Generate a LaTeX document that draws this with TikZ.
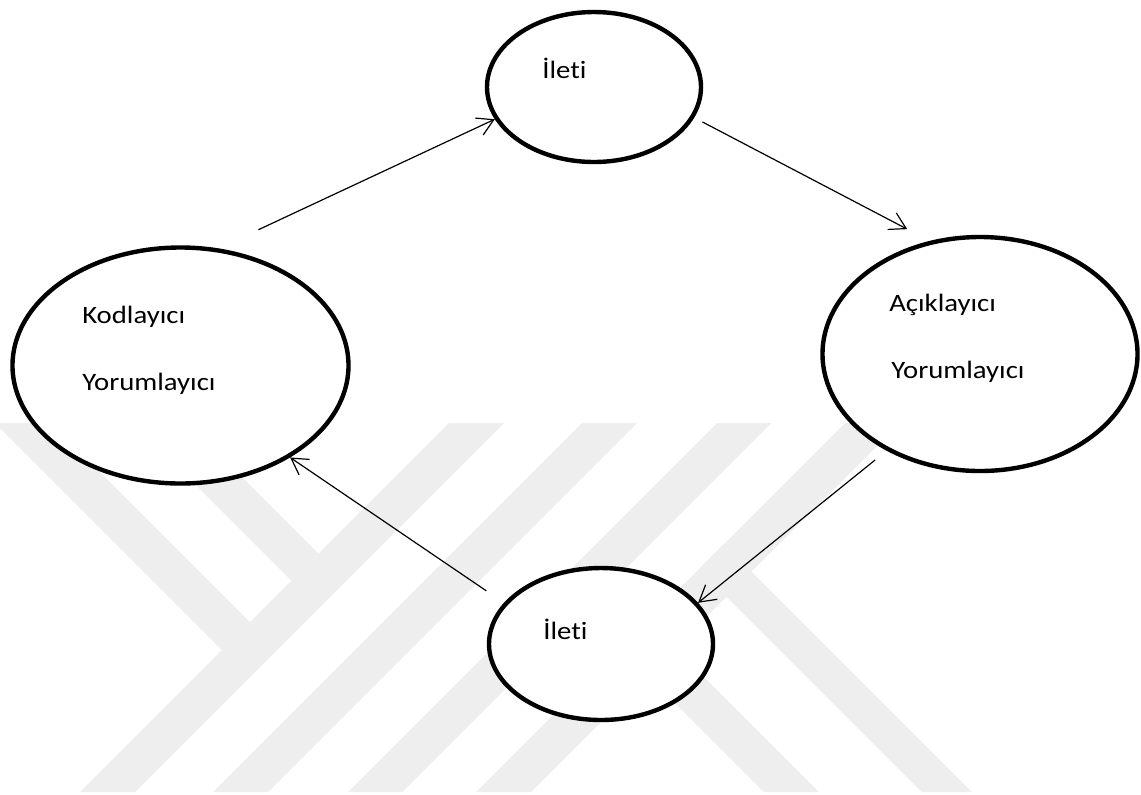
\documentclass[tikz,border=0pt]{standalone}
\usepackage{fontspec}
\setmainfont{Carlito}[FakeStretch=1.15,Ligatures={NoCommon}]
\usetikzlibrary{arrows.meta,shapes.geometric}
\definecolor{wm}{HTML}{EEEEEE}

\begin{document}
\begin{tikzpicture}[x=0.75pt,y=-0.75pt]
              \tikzstyle{every node}+=[inner sep=0pt]
              \tikzstyle{band}=[fill=wm,draw=none]
              \tikzstyle{oval}=[ellipse,draw,line width=3.3pt,fill=white]
              \tikzstyle{word}=[anchor=base west,font=\fontsize{18.75}{22}\selectfont]
              \tikzstyle{arr}=[line width=0.9pt,-{Straight Barb[length=12pt,width=14pt]}]
              \useasboundingbox (0,0) rectangle (1141,794);
              \fill [white] (0,0) rectangle (1141,794);
              \fill [band] (449,423) -- (504,423) -- (135,792) -- (80,792) -- cycle;
              \fill [band] (582,423) -- (637,423) -- (268,792) -- (213,792) -- cycle;
              \fill [band] (717,423) -- (771,423) -- (402,792) -- (348,792) -- cycle;
              \fill [band] (845,423) -- (900,423) -- (531,792) -- (476,792) -- cycle;
              \fill [band] (0,423) -- (51,423) -- (250,622) -- (222,650) -- (0,428) -- cycle;
              \fill [band] (134,423) -- (188,423) -- (318.5,553.5) -- (291.5,580.5) -- cycle;
              \fill [band] (724,544) -- (972,792) -- (922,792) -- (699,569) -- cycle;
              \fill [band] (610.5,583.5) -- (819,792) -- (764,792) -- (583,611) -- cycle;
              \node [oval,minimum width=160.5pt,minimum height=112.5pt] (ileti1) at (594,87) {};
              \node [oval,minimum width=252pt,minimum height=177pt] (kod) at (180.5,365.5) {};
              \node [oval,minimum width=236.25pt,minimum height=175.5pt] (acik) at (980,354) {};
              \node [oval,minimum width=168pt,minimum height=114pt] (ileti2) at (601,644) {};
              \node [word] (ileti1w) at (542,78) {İleti};
              \node [word] (kodw) at (82,323.5) {Kodlayıcı};
              \node [word] (kodyw) at (82,390.5) {Yorumlayıcı};
              \node [word] (acikw) at (889,311.5) {Açıklayıcı};
              \node [word] (acikyw) at (891,378.5) {Yorumlayıcı};
              \node [word] (ileti2w) at (543,639) {İleti};
              \draw [arr,shorten <=33pt] (kod.72) -- (ileti1.198);
              \draw [arr,shorten <=7pt,shorten >=19pt] (ileti1.343) -- (acik.114);
              \draw [arr,shorten <=11pt] (acik.226) -- (ileti2.23);
              \draw [arr,shorten <=16pt] (ileti2.157) -- (kod.320);
\end{tikzpicture}
\end{document}
